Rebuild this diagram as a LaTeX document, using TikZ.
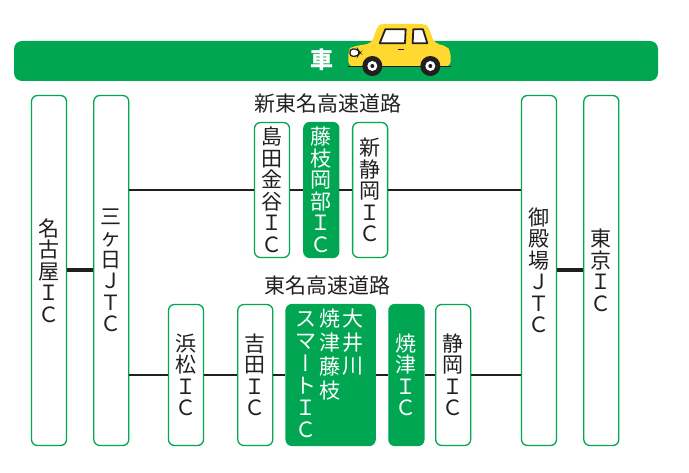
\documentclass[tikz,border=0pt]{standalone}
\usepackage{fontspec}
\setmainfont{Noto Sans CJK JP}
\newfontfamily\tatefont[RawFeature=+vert]{Noto Sans CJK JP}
\usetikzlibrary{positioning}
\definecolor{roadgreen}{HTML}{00A651}
\definecolor{inkblack}{HTML}{231F20}
\definecolor{caryellow}{HTML}{FFD92F}
\newcommand{\tatecol}[1]{\begin{tabular}[t]{@{}c@{}}#1\end{tabular}}

\begin{document}
\begin{tikzpicture}[
		x=1pt, y=-1pt,
		every node/.style={font=\fontsize{21}{21.5}\selectfont, text=inkblack},
		icbox/.style={rectangle, rounded corners=6pt, draw=roadgreen, line width=1.3pt, fill=white, minimum width=35pt, inner sep=0pt, align=center},
		icfill/.style={icbox, fill=roadgreen, text=white},
		tallbox/.style={icbox, minimum height=350pt},
		upbox/.style={minimum height=135pt},
		lowbox/.style={minimum height=141pt},
		road/.style={line width=2.4pt, draw=inkblack},
		jct/.style={line width=4pt, draw=inkblack}
	]
	\useasboundingbox (0,0) rectangle (689,473);

	% Bar
	\node[rectangle, rounded corners=8pt, fill=roadgreen, minimum width=644pt, minimum height=40pt, inner sep=0pt] (bar) at (336,61) {};
	\node[text=white, font=\fontsize{23}{24}\selectfont\bfseries] (kuruma) at (322,60) {車};

	% Car
	\begin{scope}[shift={(340,15)}, x=0.3333pt, y=-0.3333pt]
		\fill[caryellow, rounded corners=5pt] (25,155) -- (25,105) -- (35,95) -- (95,85) -- (113,32) -- (125,27) -- (255,27) -- (265,35) -- (283,85) -- (320,93) -- (332,110) -- (332,155) -- cycle;
		\draw[inkblack, line width=1.8pt, fill=white, line join=round] (136,43) -- (197,43) -- (195,85) -- (119,85) -- cycle;
		\draw[inkblack, line width=1.8pt, fill=white, line join=round] (220,43) -- (249,43) -- (262,85) -- (218,85) -- cycle;
		\draw[inkblack, line width=1.3pt, fill=white, rounded corners=3pt] (30,102) -- (52,102) -- (60,113) -- (52,124) -- (30,124) -- cycle;
		\draw[inkblack, line width=1.3pt] (175,103) -- (191,103);
		\draw[inkblack, line width=1.2pt] (25,155) -- (332,155);
		\foreach \wheelx in {97,271} {
			\fill[inkblack] (\wheelx,153) circle (30);
			\fill[white] (\wheelx,153) circle (15);
			\fill[inkblack] (\wheelx,153) circle (6);
		}
	\end{scope}

	% Nodes
	\node[icbox, tallbox] (nagoya) at (49,270.5) {名\\古\\屋\\Ｉ\\Ｃ};
	\node[icbox, tallbox, right=26pt of nagoya] (mikkabi) {三\\ヶ\\日\\Ｊ\\Ｔ\\Ｃ};
	\node[icbox, tallbox] (gotemba) at (539,270.5) {御\\殿\\場\\Ｊ\\Ｔ\\Ｃ};
	\node[icbox, tallbox, right=26pt of gotemba] (tokyo) {東\\京\\Ｉ\\Ｃ};

	\node[icbox, upbox] (shimada) at (272,190) {島\\田\\金\\谷\\Ｉ\\Ｃ};
	\node[icfill, upbox, right=13pt of shimada] (fujieda) {藤\\枝\\岡\\部\\Ｉ\\Ｃ};
	\node[icbox, upbox, right=12.5pt of fujieda] (shinshizuoka) {新\\静\\岡\\Ｉ\\Ｃ};

	\node[icbox, lowbox] (hamamatsu) at (186,375) {浜\\松\\Ｉ\\Ｃ};
	\node[icbox, lowbox, right=33pt of hamamatsu] (yoshida) {吉\\田\\Ｉ\\Ｃ};
	\node[icfill, lowbox, minimum width=89pt, right=12pt of yoshida] (oigawa) {\rule{0pt}{21pt}\tatecol{ス\\マ\\{\tatefont ー}\\ト\\Ｉ\\Ｃ}\hspace{2.5pt}\tatecol{焼\\津\\藤\\枝}\hspace{2.5pt}\tatecol{大\\井\\川}\hspace{2pt}};
	\node[icfill, lowbox, right=12.5pt of oigawa] (yaizu) {焼\\津\\Ｉ\\Ｃ};
	\node[icbox, lowbox, right=10.5pt of yaizu] (shizuoka) {静\\岡\\Ｉ\\Ｃ};

	\node[above=5pt of fujieda, xshift=7pt] (shintomei) {新東名高速道路};
	\node[above=5pt of oigawa, xshift=-3.5pt] (tomei) {東名高速道路};

	% Roads
	\draw[jct] (nagoya) -- (mikkabi);
	\draw[jct] (gotemba) -- (tokyo);

	\draw[road] (mikkabi.east |- shimada.west) -- (shimada.west);
	\draw[road] (shimada) -- (fujieda);
	\draw[road] (fujieda) -- (shinshizuoka);
	\draw[road] (shinshizuoka.east) -- (gotemba.west |- shinshizuoka.east);

	\draw[road] (mikkabi.east |- hamamatsu.west) -- (hamamatsu.west);
	\draw[road] (hamamatsu) -- (yoshida);
	\draw[road] (yoshida) -- (oigawa);
	\draw[road] (oigawa) -- (yaizu);
	\draw[road] (yaizu) -- (shizuoka);
	\draw[road] (shizuoka.east) -- (gotemba.west |- shizuoka.east);

\end{tikzpicture}
\end{document}
